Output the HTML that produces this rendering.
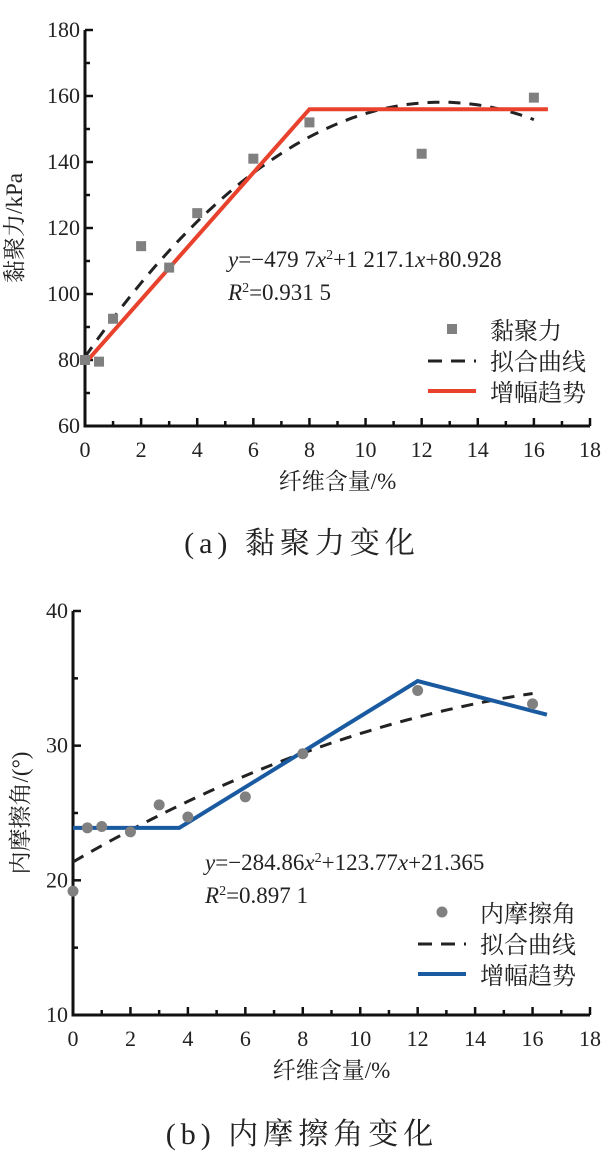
<!DOCTYPE html>
<html><head><meta charset="utf-8"><style>
body{margin:0;background:#fff;width:604px;height:1171px;overflow:hidden}
svg text{font-family:"Liberation Serif","Noto Serif CJK SC",serif;fill:#222}
</style></head><body>
<svg id="s" width="604" height="1171" xmlns="http://www.w3.org/2000/svg"></svg>
<script>
const xTicks=[0,2,4,6,8,10,12,14,16,18];
const aX=[0,0.5,1,2,3,4,6,8,12,16];
const aY=[80,79.5,92.5,114.5,108,124.5,141,152,142.5,159.5];
const aTrendX=[0,8,16.5];
const aTrendY=[79,156,156];
const aCoef=[-0.4797,12.171,80.928];
const aYTicks=[60,80,100,120,140,160,180];
const bX=[0,0.5,1,2,3,4,6,8,12,16];
const bY=[19.2,23.9,24,23.6,25.6,24.7,26.2,29.4,34.1,33.1];
const bTrendX=[0,3.7,12,16.5];
const bTrendY=[23.9,23.9,34.8,32.3];
const bCoef=[-0.028486,1.2377,21.365];
const bYTicks=[10,20,30,40];
const NS="http://www.w3.org/2000/svg";
const svg=document.getElementById('s');
function el(t,a,p){const e=document.createElementNS(NS,t);for(const k in a)e.setAttribute(k,a[k]);(p||svg).appendChild(e);return e;}
function chart(c){
 const g=el('g',{});
 
 
 const X=v=>c.x0+(v-0)*(c.x1-c.x0)/18;
 const Y=v=>c.yb+(v-c.ymin)*(c.yt-c.yb)/(c.ymax-c.ymin);
 const ax=el('path',{d:`M${c.x0} ${c.yt} V${c.yb} H${c.x1}`,stroke:'#111','stroke-width':3,fill:'none'},g);
 
 
 for(let v=0;v<=18;v++){const L=v%2==0?8:5;el('line',{x1:X(v),x2:X(v),y1:c.yb,y2:c.yb-L,stroke:'#111','stroke-width':2.5},g);}
 xTicks.forEach(v=>{const t=el('text',{x:X(v),y:c.yb+31,'text-anchor':'middle','font-size':22},g);t.textContent=v;
 
 });
 const st=c.yTicks[1]-c.yTicks[0];
 for(let v=c.ymin;v<=c.ymax+0.01;v+=st/2){const maj=Math.abs((v-c.ymin)%st)<0.01;el('line',{x1:c.x0,x2:c.x0+(maj?8:5),y1:Y(v),y2:Y(v),stroke:'#111','stroke-width':2.5},g);}
 c.yTicks.forEach(v=>{const t=el('text',{x:c.x0-5,y:Y(v)+7,'text-anchor':'end','font-size':22},g);t.textContent=v;
 
 });
 let d='';for(let i=0;i<=64;i++){const v=i*16/64;const y=c.coef[0]*v*v+c.coef[1]*v+c.coef[2];d+=(i?'L':'M')+X(v).toFixed(1)+' '+Y(y).toFixed(1);}
 const fc=el('path',{d,stroke:'#222','stroke-width':3,fill:'none','stroke-dasharray':'12 9'},g);
 
 
 const tr=el('polyline',{points:c.tx.map((v,i)=>X(v)+','+Y(c.ty[i])).join(' '),stroke:c.color,'stroke-width':4,fill:'none'},g);
 
 
 c.px.forEach((v,i)=>{let m;
  if(c.sq)m=el('rect',{x:X(v)-5,y:Y(c.py[i])-5,width:10,height:10,fill:'#808080'},g);
  else m=el('circle',{cx:X(v),cy:Y(c.py[i]),r:5.5,fill:'#808080'},g);
  
  });
 const e1=el('text',{x:c.ex,y:c.ey,'font-size':23},g);e1.innerHTML=c.eq;
 
 
 const e2=el('text',{x:c.ex,y:c.ey+33,'font-size':23},g);e2.innerHTML=c.r2;
 
 
 const lg=el('g',{},g);
 
 
 if(c.sq)el('rect',{x:c.lx+19,y:c.ly-6,width:10,height:10,fill:'#808080'},lg);else el('circle',{cx:c.lx+24,cy:c.ly-1,r:5.5,fill:'#808080'},lg);
 el('line',{x1:c.lx,x2:c.lx+48,y1:c.ly+31,y2:c.ly+31,stroke:'#222','stroke-width':3,'stroke-dasharray':'14 9'},lg);
 el('line',{x1:c.lx,x2:c.lx+48,y1:c.ly+61,y2:c.ly+61,stroke:c.color,'stroke-width':4},lg);
 [c.lab,'拟合曲线','增幅趋势'].forEach((s,i)=>{const t=el('text',{x:c.lx+62,y:c.ly+9+i*31,'font-size':24},lg);t.textContent=s;
 
 });
 const xt=el('text',{x:(c.x0+c.x1)/2,y:c.yb+63,'text-anchor':'middle','font-size':23},g);xt.textContent='纤维含量/%';
 
 
 const yc=(c.yt+c.yb)/2;
 const yt=el('text',{x:c.ytx,y:yc,'text-anchor':'middle','font-size':23,transform:`rotate(-90 ${c.ytx} ${yc})`},g);yt.textContent=c.ytitle;
 
 
 const cp=el('text',{x:302,y:c.capY,'text-anchor':'middle','font-size':30,'letter-spacing':'5'},g);cp.textContent=c.cap;
 
 
}
chart({name:'cohesion-chart',x0:85,x1:590,yt:30,yb:426,ymin:60,ymax:180,yTicks:aYTicks,px:aX,py:aY,tx:aTrendX,ty:aTrendY,coef:aCoef,color:'#e8412c',sq:true,
 ex:228,ey:267,eq:'<tspan font-style="italic">y</tspan>=−479 7<tspan font-style="italic">x</tspan><tspan dy="-8" font-size="14">2</tspan><tspan dy="8">+1 217.1</tspan><tspan font-style="italic">x</tspan>+80.928',
 r2:'<tspan font-style="italic">R</tspan><tspan dy="-8" font-size="14">2</tspan><tspan dy="8">=0.931 5</tspan>',
 lx:428,ly:330,lab:'黏聚力',ytitle:'黏聚力/kPa',ytx:22,capY:553,cap:'(a) 黏聚力变化'});
chart({name:'friction-angle-chart',x0:73,x1:590,yt:611,yb:1015,ymin:10,ymax:40,yTicks:bYTicks,px:bX,py:bY,tx:bTrendX,ty:bTrendY,coef:bCoef,color:'#1a5aa0',sq:false,
 ex:205,ey:870,eq:'<tspan font-style="italic">y</tspan>=−284.86<tspan font-style="italic">x</tspan><tspan dy="-8" font-size="14">2</tspan><tspan dy="8">+123.77</tspan><tspan font-style="italic">x</tspan>+21.365',
 r2:'<tspan font-style="italic">R</tspan><tspan dy="-8" font-size="14">2</tspan><tspan dy="8">=0.897 1</tspan>',
 lx:418,ly:913,lab:'内摩擦角',ytitle:'内摩擦角/(°)',ytx:28,capY:1144,cap:'(b) 内摩擦角变化'});
</script>
</body></html>
